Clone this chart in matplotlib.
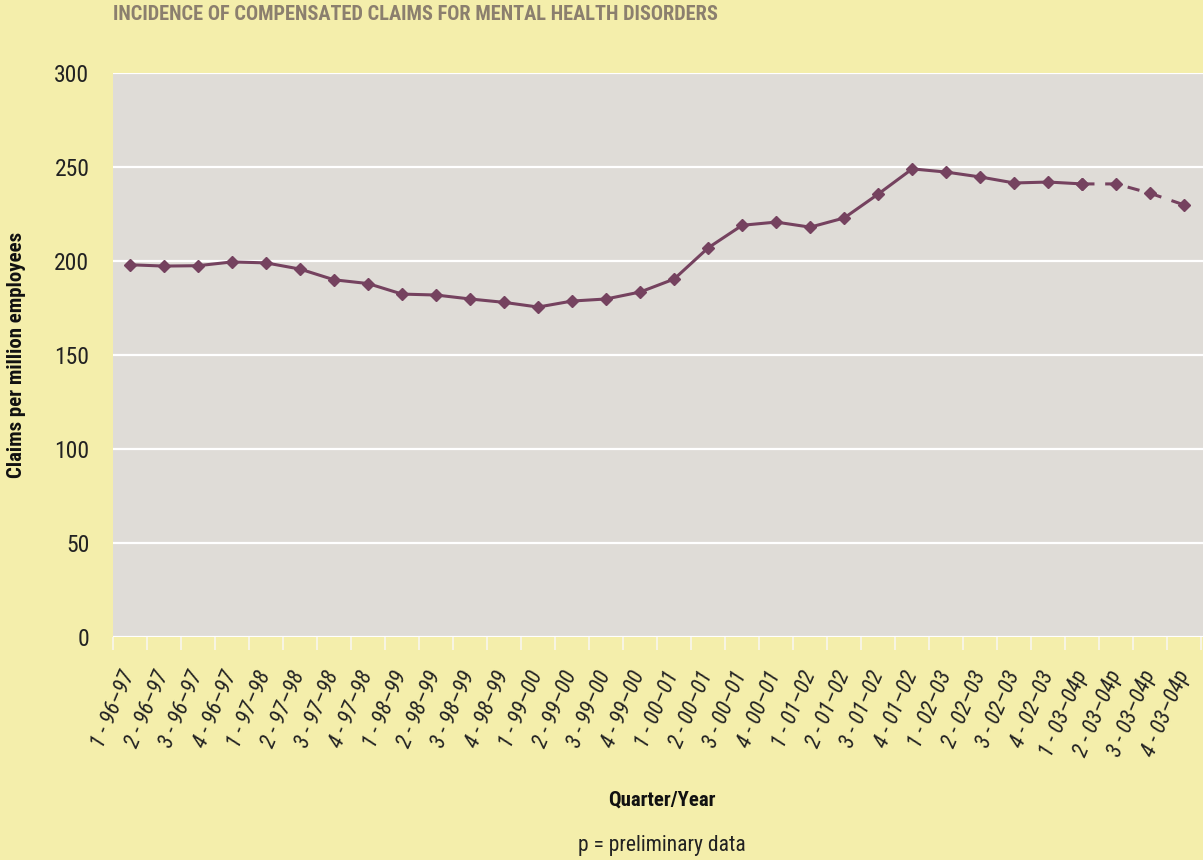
import matplotlib
matplotlib.use("Agg")
import matplotlib.pyplot as plt
from matplotlib import font_manager

# quarterly claims per million employees, last four are preliminary
quarters = ["1 - 96–97", "2 - 96–97", "3 - 96–97", "4 - 96–97",
            "1 - 97–98", "2 - 97–98", "3 - 97–98", "4 - 97–98",
            "1 - 98–99", "2 - 98–99", "3 - 98–99", "4 - 98–99",
            "1 - 99–00", "2 - 99–00", "3 - 99–00", "4 - 99–00",
            "1 - 00–01", "2 - 00–01", "3 - 00–01", "4 - 00–01",
            "1 - 01–02", "2 - 01–02", "3 - 01–02", "4 - 01–02",
            "1 - 02–03", "2 - 02–03", "3 - 02–03", "4 - 02–03",
            "1 - 03–04p", "2 - 03–04p", "3 - 03–04p", "4 - 03–04p"]
claims = [198, 197.3, 197.5, 199.5, 199, 195.7, 190, 188,
          182.4, 181.9, 179.8, 178, 175.5, 178.7, 179.8, 183.5,
          190.4, 207, 219, 220.7, 218, 222.9, 235.6, 249,
          247.3, 244.7, 241.5, 242, 241, 241, 236, 229.8]
n_final = 29  # points up to and including 1 - 03-04p drawn solid

yticks = [0, 50, 100, 150, 200, 250, 300]

bg = "#f4eeab"
panel = "#dfdcd7"
purple = "#75425f"

# prefer a narrow face if one is installed
names = {f.name for f in font_manager.fontManager.ttflist}
font = next((n for n in ["Liberation Sans Narrow", "DejaVu Sans Condensed",
                         "Roboto Condensed", "Open Sans Condensed"] if n in names),
            "DejaVu Sans")
plt.rcParams["font.family"] = [font, "DejaVu Sans"]
plt.rcParams["font.stretch"] = "condensed"

fig = plt.figure(figsize=(12.03, 8.6), dpi=100, facecolor=bg)
ax = fig.add_axes([113 / 1203, 223 / 860, 1090 / 1203, 564 / 860])
ax.set_facecolor(panel)

x = list(range(len(claims)))
ax.plot(x[:n_final], claims[:n_final], color=purple, lw=2.2, marker="D",
        ms=6.5, zorder=3)
ax.plot(x[n_final - 1:], claims[n_final - 1:], color=purple, lw=2.2,
        ls=(0, (4, 3.5)), marker="D", ms=6.5, zorder=3)

ax.set_xlim(-0.45, 31.55)
ax.set_ylim(0, 300)
ax.set_yticks(yticks)
ax.yaxis.grid(True, color="white", lw=1.6)
ax.set_axisbelow(True)
for s in ax.spines.values():
    s.set_visible(False)

ax.tick_params(axis="y", length=0, pad=17, labelsize=17, labelcolor="#222222")
ax.set_xticks(x)
ax.set_xticklabels(quarters, rotation=67, ha="right", va="center",
                   rotation_mode="anchor", fontsize=16, style="italic",
                   color="#222222")
ax.tick_params(axis="x", which="major", length=0, pad=25)
ax.set_xticks([i - 0.5 for i in range(len(claims) + 1)], minor=True)
ax.tick_params(axis="x", which="minor", length=9.5, width=1.2, color="#f8f6ee")

fig.text(113 / 1203, 1 - 14 / 860, "INCIDENCE OF COMPENSATED CLAIMS FOR MENTAL HEALTH DISORDERS",
         ha="left", va="center", fontsize=14.7, fontweight="bold", color="#8b7f6e")
fig.text(17 / 1203, 1 - 355 / 860, "Claims per million employees", rotation=90,
         ha="center", va="center", fontsize=15, fontweight="bold", color="#111111")
fig.text(662 / 1203, 1 - 800 / 860, "Quarter/Year", ha="center", va="center",
         fontsize=15, fontweight="bold", color="#111111")
fig.text(662 / 1203, 1 - 845 / 860, "p = preliminary data", ha="center", va="center",
         fontsize=15.5, color="#222222")

fig.savefig("out.png", dpi=100, facecolor=bg)
